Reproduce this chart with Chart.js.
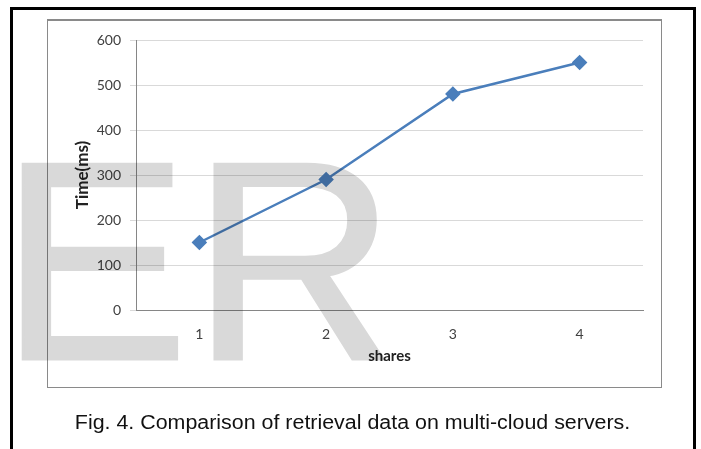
<!DOCTYPE html>
<html><head><meta charset="utf-8">
<script src="https://cdn.jsdelivr.net/npm/chart.js@4"></script>
<style>
html,body{margin:0;padding:0;background:#fff;width:701px;height:449px;overflow:hidden;}
#outer{position:absolute;left:10px;top:7px;width:680px;height:460px;border:3px solid #000;border-bottom:none;}
#inner{position:absolute;left:47px;top:19px;width:613px;height:366px;border:1px solid #8a8a8a;border-top:2px solid #8a8a8a;}
#c{position:absolute;left:0;top:0;}
#cap{position:absolute;left:13px;width:680px;top:411px;text-align:center;font-family:"Liberation Sans",Arial,sans-serif;font-size:20px;color:#111;}
#cap span{display:inline-block;transform:scaleX(1.07);transform-origin:center;}
#wm{position:absolute;left:0px;top:120px;font-family:"Liberation Sans",Arial,sans-serif;font-size:283px;line-height:1;letter-spacing:3px;color:#d9d9d9;-webkit-text-stroke:3px #d9d9d9;mix-blend-mode:multiply;white-space:nowrap;pointer-events:none;}
</style>
</head><body>
<div id="outer"></div>
<div id="inner"></div>
<canvas id="c" width="701" height="449"></canvas>
<div id="cap"><span>Fig. 4. Comparison of retrieval data on multi-cloud servers.</span></div>
<div id="wm">ER</div>
<script>
const categories = ['1', '2', '3', '4'];
const timeMs = [150, 290, 480, 550];
const yMin = 0, yMax = 600, yStep = 100;
const xTitle = 'shares';
const yTitle = 'Time(ms)';

new Chart(document.getElementById('c'), {
  type: 'line',
  data: {
    labels: categories,
    datasets: [{
      data: timeMs,
      borderColor: '#4a7ebb',
      backgroundColor: '#4a7ebb',
      borderWidth: 2.5,
      pointStyle: 'rectRot',
      pointRadius: 6,
      pointBackgroundColor: '#4a7ebb',
      pointBorderColor: '#4a7ebb',
      tension: 0
    }]
  },
  options: {
    responsive: false,
    animation: false,
    layout: { padding: { left: 60, right: 58, top: 40, bottom: 80 } },
    plugins: { legend: { display: false }, tooltip: { enabled: false } },
    scales: {
      x: {
        type: 'category',
        offset: true,
        grid: { display: false, drawTicks: false },
        border: { display: true, color: '#868686', width: 1 },
        ticks: { font: { family: 'Lato', size: 14 }, color: '#404040', padding: 16 },
        title: { display: true, text: xTitle, font: { family: 'Lato', size: 15, weight: 'bold' }, color: '#222', padding: { top: 4, bottom: 4 } },
        afterFit: s => { s.height = 59; }
      },
      y: {
        min: yMin, max: yMax,
        grid: { color: '#d9d9d9', lineWidth: 1, tickLength: 6, drawTicks: true },
        border: { display: true, color: '#868686', width: 1 },
        ticks: { stepSize: yStep, font: { family: 'Lato', size: 14 }, color: '#404040', padding: 9 },
        title: { display: true, text: yTitle, font: { family: 'Lato', size: 17, weight: 'bold' }, color: '#222', padding: { top: 12, bottom: 4 } },
        afterFit: s => { s.width = 76; }
      }
    }
  }
});
</script>
</body></html>
